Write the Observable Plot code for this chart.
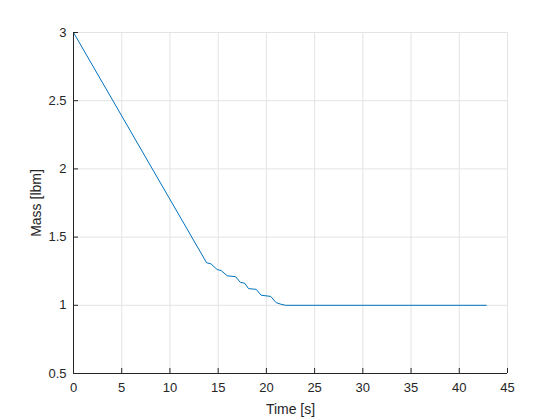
<!DOCTYPE html>
<html>
<head>
<meta charset="utf-8">
<script src="https://cdn.jsdelivr.net/npm/d3@7"></script>
<script src="https://cdn.jsdelivr.net/npm/@observablehq/plot@0.6"></script>
<style>
  html, body { margin: 0; padding: 0; background: #ffffff; }
  #chart svg { display: block; }
</style>
</head>
<body>
<div id="chart"></div>
<script>
const time = [0, 13.8, 14.25, 14.9, 15.3, 15.95, 16.8, 17.3, 17.75, 18.15, 18.95, 19.45, 20.45, 21.0, 21.5, 22.0, 42.8];
const mass = [3, 1.312, 1.304, 1.262, 1.255, 1.216, 1.210, 1.168, 1.162, 1.122, 1.117, 1.074, 1.065, 1.02, 1.008, 1.0, 1.0];
const xTicks = [0, 5, 10, 15, 20, 25, 30, 35, 40, 45];
const yTicks = [0.5, 1, 1.5, 2, 2.5, 3];
const yTickLabels = ["0.5", "1", "1.5", "2", "2.5", "3"];
const xLabel = "Time [s]";
const yLabel = "Mass [lbm]";

const data = time.map((t, i) => ({t, m: mass[i]}));
const frameW = 560 - 73 - 53;
const frameH = 420 - 32 - 47;

const chart = Plot.plot({
  width: 560,
  height: 420,
  marginLeft: 73,
  marginRight: 53,
  marginTop: 32,
  marginBottom: 47,
  style: {fontFamily: "'Liberation Sans', Arial, Helvetica, sans-serif", fontSize: "13px", color: "#262626", background: "#ffffff"},
  x: {domain: [0, 45]},
  y: {domain: [0.5, 3]},
  marks: [
    Plot.gridX(xTicks, {stroke: "#e3e3e3", strokeOpacity: 1}),
    Plot.gridY(yTicks, {stroke: "#e3e3e3", strokeOpacity: 1}),
    Plot.line(data, {x: "t", y: "m", stroke: "#0072BD", strokeWidth: 1}),
    Plot.ruleX([0], {stroke: "#262626", strokeWidth: 1}),
    Plot.ruleY([0.5], {stroke: "#262626", strokeWidth: 1}),
    Plot.tickX(xTicks, {x: d => d, insetTop: frameH - 5, stroke: "#262626"}),
    Plot.tickY(yTicks, {y: d => d, insetRight: frameW - 5, stroke: "#262626"}),
    Plot.axisX(xTicks, {tickSize: 0, tickPadding: 9, fontSize: 13, label: null}),
    Plot.axisY(yTicks, {tickSize: 0, tickPadding: 7, fontSize: 13, tickFormat: (d, i) => yTickLabels[i], label: null}),
    Plot.axisX({label: xLabel, labelArrow: "none", labelAnchor: "center", labelOffset: 40, ticks: [], tickSize: 0, fontSize: 14}),
    Plot.axisY({label: yLabel, labelArrow: "none", labelAnchor: "center", labelOffset: 42, ticks: [], tickSize: 0, fontSize: 14})
  ]
});
document.getElementById("chart").appendChild(chart);
</script>
</body>
</html>
